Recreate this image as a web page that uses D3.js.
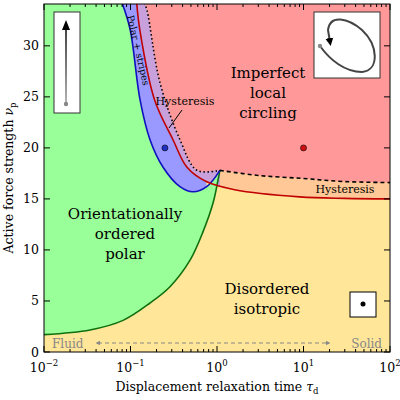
<!DOCTYPE html><html><head><meta charset="utf-8"><script src="https://d3js.org/d3.v7.min.js"></script>
<style>body{margin:0;background:#fff}</style></head><body>
<svg id="c" width="400" height="400" style="font-family:'DejaVu Serif','Liberation Serif',serif"></svg>
<script>
// data (x = tau_d, y = nu_p)
const greenCurve=[[0.01,1.7],[0.034,2.16],[0.082,3.1],[0.168,4.8],[0.286,6.4],[0.488,9.0],[0.69,11.8],[0.90,14.6],[1.03,16.9],[1.08,17.8]];
const blueCurve=[[0.080,34.2],[0.099,31.6],[0.129,24.7],[0.168,20.8],[0.238,18.1],[0.373,16.2],[0.527,15.7],[0.76,16.2],[1.08,17.8]];
const redCurve=[[0.118,34.2],[0.128,31.6],[0.19,24.7],[0.31,20.8],[0.45,18.1],[0.75,16.7],[1.6,15.9],[9,15.2],[30,15.05],[100,15.0]];
const blackBound=[[0.145,34.2],[0.155,33.5],[0.219,26.4],[0.373,20.8],[0.587,17.8],[1.08,17.8],[3,17.3],[10,17.0],[30,16.7],[100,16.6]];
const points=[{x:0.25,y:20,c:"#2030c0"},{x:10,y:20,c:"#d01010"}];
const xTicks=[0.01,0.1,1,10,100], xTickExp=["−2","−1","0","1","2"];
const yTicks=[0,5,10,15,20,25,30];

const svg=d3.select("#c");
const L=44,R=390,T=4,B=352;
const x=d3.scaleLog().domain([0.01,100]).range([L,R]);
const y=d3.scaleLinear().domain([0,34.1]).range([B,T]);
const lineX=d3.line().x(d=>x(d[0])).y(d=>y(d[1])).curve(d3.curveCatmullRom);
svg.append("clipPath").attr("id","pc").append("rect").attr("x",L).attr("y",T).attr("width",R-L).attr("height",B-T);
svg.append("clipPath").attr("id","lc").append("rect").attr("x",L).attr("y",T).attr("width",x(1.08)-L).attr("height",B-T);
const g=svg.append("g").attr("clip-path","url(#pc)");
g.append("rect").attr("x",L).attr("y",T).attr("width",R-L).attr("height",B-T).attr("fill","#ffe699");
function area(pts,closing,fill,clip){
  const d=lineX(pts)+closing.map(p=>"L"+x(p[0])+","+y(p[1])).join("")+"Z";
  const p=g.append("path").attr("d",d).attr("fill",fill);
  if(clip)p.attr("clip-path","url(#lc)");return p;}
area(redCurve,[[100,40],[0.1,40]],"#ffc896");
area(redCurve,[[100,40],[0.1,40]],"#c8a0dc",true);
area(blackBound,[[100,40],[0.14,40]],"#ff9999");
const bluePart=blueCurve.slice(0,8), redPart=redCurve.slice(0,6).reverse();
g.append("path").attr("d",lineX(bluePart)+lineX(redPart).replace("M","L")+"Z").attr("fill","#9999ff");
g.append("path").attr("d",lineX(blueCurve)+lineX(greenCurve.slice().reverse()).replace("M","L")+"L"+x(0.01)+","+y(40)+"Z").attr("fill","#99ff99");
g.append("path").attr("d",lineX(greenCurve)).attr("fill","none").attr("stroke","#107010").attr("stroke-width",1.6);
g.append("path").attr("d",lineX(blueCurve)).attr("fill","none").attr("stroke","#1010c0").attr("stroke-width",1.6);
g.append("path").attr("d",lineX(redCurve)).attr("fill","none").attr("stroke","#c00000").attr("stroke-width",1.6);
g.append("path").attr("d",lineX(blackBound.slice(0,6))).attr("fill","none").attr("stroke","#000").attr("stroke-width",1.6).attr("stroke-dasharray","1.5,2.5");
g.append("path").attr("d",lineX(blackBound.slice(5))).attr("fill","none").attr("stroke","#000").attr("stroke-width",1.6).attr("stroke-dasharray","4,3");
points.forEach(p=>g.append("circle").attr("cx",x(p.x)).attr("cy",y(p.y)).attr("r",3).attr("fill",p.c).attr("stroke","#000").attr("stroke-width",0.6));
svg.append("rect").attr("x",L).attr("y",T).attr("width",R-L).attr("height",B-T).attr("fill","none").attr("stroke","#000");
const minor=[];for(let e=-2;e<2;e++)for(let k=2;k<10;k++)minor.push(k*Math.pow(10,e));
const ax=svg.append("g").attr("stroke","#000");
xTicks.forEach(v=>{ax.append("line").attr("x1",x(v)).attr("x2",x(v)).attr("y1",B).attr("y2",B-6);ax.append("line").attr("x1",x(v)).attr("x2",x(v)).attr("y1",T).attr("y2",T+6);});
minor.forEach(v=>{ax.append("line").attr("x1",x(v)).attr("x2",x(v)).attr("y1",B).attr("y2",B-3);ax.append("line").attr("x1",x(v)).attr("x2",x(v)).attr("y1",T).attr("y2",T+3);});
yTicks.forEach(v=>{ax.append("line").attr("x1",L).attr("x2",L+6).attr("y1",y(v)).attr("y2",y(v));ax.append("line").attr("x1",R).attr("x2",R-6).attr("y1",y(v)).attr("y2",y(v));});
xTicks.forEach((v,i)=>{const t=svg.append("text").attr("x",x(v)).attr("y",372).attr("text-anchor","middle").attr("font-size",12.5);
 t.append("tspan").text("10");t.append("tspan").attr("dy",-6).attr("font-size",8.5).text(xTickExp[i]);});
yTicks.forEach(v=>svg.append("text").attr("x",L-5).attr("y",y(v)+4.5).attr("text-anchor","end").attr("font-size",12.5).text(v));
const xl=svg.append("text").attr("x",217).attr("y",391).attr("text-anchor","middle").attr("font-size",12.5);
xl.append("tspan").text("Displacement relaxation time ");xl.append("tspan").attr("font-style","italic").text("τ");xl.append("tspan").attr("dy",3).attr("font-size",8.5).text("d");
const yl=svg.append("text").attr("transform","translate(13,178) rotate(-90)").attr("text-anchor","middle").attr("font-size",12.5);
yl.append("tspan").text("Active force strength ");yl.append("tspan").attr("font-style","italic").text("ν");yl.append("tspan").attr("dy",3).attr("font-size",8.5).text("p");
function ml(lines,cx,cy,fs,lh){lines.forEach((s,i)=>svg.append("text").attr("x",cx).attr("y",cy+i*lh).attr("text-anchor","middle").attr("font-size",fs).text(s));}
ml(["Imperfect","local","circling"],268,78,15,20);
ml(["Orientationally","ordered","polar"],125,219,15,20);
ml(["Disordered","isotropic"],267,294,15,20);
svg.append("text").attr("transform","translate(127,16) rotate(77)").attr("font-size",9.5).text("Polar + stripes");
svg.append("text").attr("x",185,).attr("y",105).attr("text-anchor","middle").attr("font-size",11).text("Hysteresis");
svg.append("line").attr("x1",182).attr("y1",110).attr("x2",169).attr("y2",128).attr("stroke","#000");
svg.append("text").attr("x",345).attr("y",193).attr("text-anchor","middle").attr("font-size",11).text("Hysteresis");
svg.append("text").attr("x",52).attr("y",348).attr("font-size",12).attr("fill","#888").text("Fluid");
svg.append("text").attr("x",382).attr("y",348).attr("text-anchor","end").attr("font-size",12).attr("fill","#888").text("Solid");
svg.append("defs").html('<marker id="ga" viewBox="0 0 10 10" refX="5" refY="5" markerWidth="4" markerHeight="4" orient="auto-start-reverse"><path d="M0,0L10,5L0,10z" fill="#888"/></marker><marker id="ba" viewBox="0 0 10 10" refX="5" refY="5" markerWidth="4" markerHeight="5" orient="auto"><path d="M0,0L10,5L0,10z" fill="#000"/></marker><linearGradient id="lg" gradientUnits="userSpaceOnUse" x1="0" y1="104" x2="0" y2="26"><stop offset="0" stop-color="#999"/><stop offset="1" stop-color="#000"/></linearGradient>');
svg.append("line").attr("x1",98).attr("y1",343).attr("x2",328).attr("y2",343).attr("stroke","#888").attr("stroke-width",1.2).attr("stroke-dasharray","4,3").attr("marker-start","url(#ga)").attr("marker-end","url(#ga)");
svg.append("rect").attr("x",54).attr("y",12).attr("width",26).attr("height",101).attr("fill","#fff").attr("stroke","#333");
svg.append("path").attr("d","M66,104L66,26").attr("stroke","url(#lg)").attr("stroke-width",1.5).attr("fill","none");
svg.append("path").attr("d","M62,30L66,20L70,30Z").attr("fill","#000");
svg.append("circle").attr("cx",66).attr("cy",104).attr("r",2.2).attr("fill","#888");
svg.append("rect").attr("x",314).attr("y",12).attr("width",66).attr("height",66).attr("fill","#fff").attr("stroke","#333");
svg.append("path").attr("d","M320,46 C330,60 345,72 362,72 C380,70 378,45 362,30 C348,18 330,14 328,30 L330,42").attr("fill","none").attr("stroke","#444").attr("stroke-width",2).attr("marker-end","url(#ba)");
svg.append("circle").attr("cx",320).attr("cy",46).attr("r",2.2).attr("fill","#888");
svg.append("rect").attr("x",350).attr("y",292).attr("width",26).attr("height",25).attr("fill","#fff").attr("stroke","#000");
svg.append("circle").attr("cx",363).attr("cy",304).attr("r",2.5).attr("fill","#000");
</script></body></html>
